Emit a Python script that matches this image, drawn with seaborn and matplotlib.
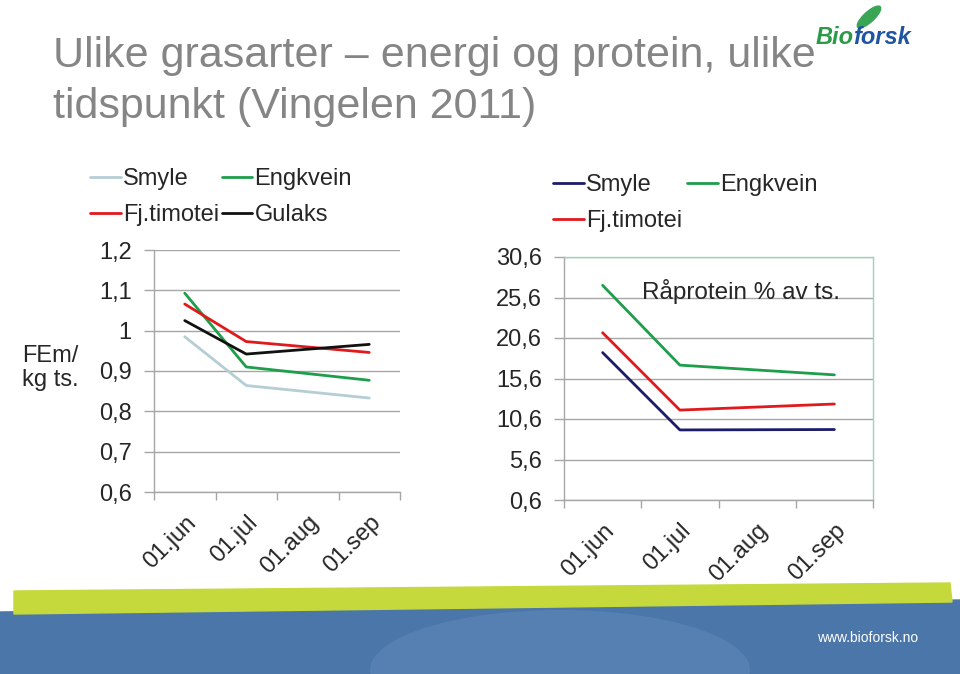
import numpy as np
import pandas as pd
import matplotlib
matplotlib.use("Agg")
import matplotlib.pyplot as plt
import seaborn as sns
from matplotlib.lines import Line2D
from matplotlib.patches import Polygon, Ellipse

sns.set_style("white")
plt.rcParams['font.family'] = ['Liberation Sans', 'DejaVu Sans']

# x axis: month slots, samples taken at jun, jul and sep
months = ['01.jun', '01.jul', '01.aug', '01.sep']
sample_pos = [0, 1, 3]

# FEm / kg ts.
fem_smyle = [0.985, 0.864, 0.833]
fem_engkvein = [1.093, 0.910, 0.877]
fem_timotei = [1.066, 0.973, 0.946]
fem_gulaks = [1.025, 0.942, 0.966]

# Raaprotein % av ts.
rp_smyle = [18.8, 9.25, 9.3]
rp_engkvein = [27.1, 17.25, 16.05]
rp_timotei = [21.25, 11.7, 12.45]

fem_ticks = [0.6, 0.7, 0.8, 0.9, 1.0, 1.1, 1.2]
fem_ticklabels = ['0,6', '0,7', '0,8', '0,9', '1', '1,1', '1,2']
rp_ticks = [0.6, 5.6, 10.6, 15.6, 20.6, 25.6, 30.6]
rp_ticklabels = ['0,6', '5,6', '10,6', '15,6', '20,6', '25,6', '30,6']

fem = pd.DataFrame({
    'x': sample_pos * 4,
    'v': fem_smyle + fem_engkvein + fem_timotei + fem_gulaks,
    'sort': ['Smyle'] * 3 + ['Engkvein'] * 3 + ['Fj.timotei'] * 3 + ['Gulaks'] * 3,
})
rp = pd.DataFrame({
    'x': sample_pos * 3,
    'v': rp_smyle + rp_engkvein + rp_timotei,
    'sort': ['Smyle'] * 3 + ['Engkvein'] * 3 + ['Fj.timotei'] * 3,
})

green = '#1e9e4a'
red = '#e0191d'
pal_fem = {'Smyle': '#b5cdd5', 'Engkvein': green, 'Fj.timotei': red, 'Gulaks': '#111111'}
pal_rp = {'Smyle': '#1c1c6b', 'Engkvein': green, 'Fj.timotei': red}

fig = plt.figure(figsize=(9.6, 6.74), dpi=100)
fig.patch.set_facecolor('white')

ax1 = fig.add_axes([154/960, 1-492/674, 246/960, 242/674])
ax2 = fig.add_axes([564/960, 1-500/674, 309/960, 243/674])

sns.lineplot(data=fem, x='x', y='v', hue='sort', palette=pal_fem, lw=2.0, ax=ax1, legend=False)
sns.lineplot(data=rp, x='x', y='v', hue='sort', palette=pal_rp, lw=2.0, ax=ax2, legend=False)

fs = 17
grid_c = '#a6a6a6'
for ax, ticks, labels in [(ax1, fem_ticks, fem_ticklabels), (ax2, rp_ticks, rp_ticklabels)]:
    ax.set_xlim(-0.5, 3.5)
    ax.set_ylim(ticks[0], ticks[-1])
    ax.set_yticks(ticks)
    ax.set_yticklabels(labels)
    ax.set_xticks([-0.5, 0.5, 1.5, 2.5, 3.5])
    ax.set_xticklabels([])
    ax.set_xticks(range(4), minor=True)
    ax.set_xticklabels(months, minor=True, rotation=45, ha='right', rotation_mode='anchor')
    ax.tick_params(axis='x', which='minor', length=0, pad=14, labelsize=fs)
    ax.tick_params(axis='x', which='major', length=6, width=1, color=grid_c, direction='out', bottom=True)
    ax.tick_params(axis='y', length=7, width=1, color=grid_c, left=True, pad=9, labelsize=fs)
    ax.yaxis.grid(True, color=grid_c, lw=1)
    ax.set_xlabel('')
    ax.set_ylabel('')
    ax.set_facecolor('none')
    for s in ax.spines.values():
        s.set_color(grid_c)
        s.set_linewidth(1)

ax1.spines['right'].set_visible(False)
ax1.spines['top'].set_visible(False)
ax2.spines['right'].set_color('#9fd3b8')
ax2.spines['top'].set_color('#9fd3b8')

def handles(pal, order):
    return [Line2D([], [], color=pal[k], lw=2.0) for k in order], order

h, l = handles(pal_fem, ['Smyle', 'Fj.timotei', 'Engkvein', 'Gulaks'])
fig.legend(h, l, loc='upper left', bbox_to_anchor=(90/960, 1-168/674), ncol=2, frameon=False,
           fontsize=fs, handlelength=1.3, handletextpad=0.1, columnspacing=0.1,
           labelspacing=0.6, borderpad=0, borderaxespad=0)
h, l = handles(pal_rp, ['Smyle', 'Fj.timotei', 'Engkvein'])
fig.legend(h, l, loc='upper left', bbox_to_anchor=(553/960, 1-174/674), ncol=2, frameon=False,
           fontsize=fs, handlelength=1.3, handletextpad=0.1, columnspacing=0.2,
           labelspacing=0.6, borderpad=0, borderaxespad=0)

fig.text(22/960, 1-368/674, 'FEm/\nkg ts.', fontsize=fs, ha='left', va='center', linespacing=1.1)
ax2.text(0.252, 0.856, 'Råprotein % av ts.', transform=ax2.transAxes, fontsize=17.5,
         ha='left', va='center')

title_c = '#858585'
fig.text(53/960, 1-67/674, 'Ulike grasarter – energi og protein, ulike', fontsize=31,
         color=title_c, ha='left', va='baseline')
fig.text(53/960, 1-118/674, 'tidspunkt (Vingelen 2011)', fontsize=31,
         color=title_c, ha='left', va='baseline')

# logo
fig.text(816/960, 1-44/674, 'Bio', fontsize=17, fontweight='bold', color='#2a9a48',
         ha='left', va='baseline', style='italic')
fig.text(853/960, 1-44/674, 'forsk', fontsize=17, fontweight='bold', color='#1f55a0',
         ha='left', va='baseline', style='italic')
fig.patches.append(Ellipse((869/960, 1-17/674), 12/960, 26/674, angle=-35,
                           transform=fig.transFigure, color='#3aa655'))

# bottom banner
W, H = 960, 674
def fp(pts):
    return [(x/W, 1-y/H) for x, y in pts]
fig.patches.append(Polygon(fp([(0, 612), (960, 600), (960, 674), (0, 674)]),
                           closed=True, transform=fig.transFigure, color='#4b76a9'))
fig.patches.append(Ellipse((560/W, 1-670/H), 380/W, 120/H, transform=fig.transFigure,
                           color='#5580b1', lw=0))
fig.patches.append(Polygon(fp([(14, 591), (950, 583), (952, 602), (14, 614)]),
                           closed=True, transform=fig.transFigure, color='#c6d93c'))
fig.text(918/960, 1-638/674, 'www.bioforsk.no', fontsize=10, color='white',
         ha='right', va='center')

fig.savefig('out.png', dpi=100, facecolor='white')
